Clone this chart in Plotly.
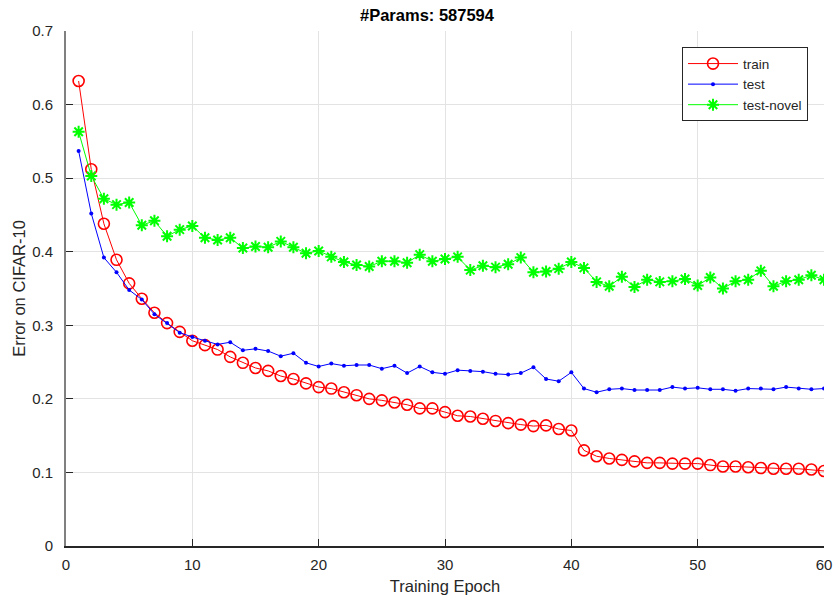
import plotly.graph_objects as go

epochs = list(range(1, 61))

train_err = [0.632, 0.512, 0.438, 0.389, 0.357, 0.336, 0.317, 0.303, 0.291, 0.279,
             0.273, 0.267, 0.257, 0.249, 0.242, 0.238, 0.231, 0.227, 0.221, 0.216,
             0.214, 0.209, 0.205, 0.200, 0.198, 0.195, 0.192, 0.187, 0.187, 0.182,
             0.177, 0.176, 0.173, 0.170, 0.167, 0.165, 0.163, 0.164, 0.159, 0.157,
             0.130, 0.122, 0.119, 0.117, 0.115, 0.113, 0.113, 0.112, 0.112, 0.112,
             0.110, 0.108, 0.108, 0.107, 0.106, 0.105, 0.105, 0.105, 0.104, 0.102]

test_err = [0.537, 0.452, 0.392, 0.372, 0.348, 0.335, 0.315, 0.303, 0.290, 0.284,
            0.279, 0.274, 0.277, 0.266, 0.268, 0.265, 0.258, 0.262, 0.249, 0.244,
            0.248, 0.245, 0.246, 0.246, 0.241, 0.245, 0.235, 0.244, 0.236, 0.234,
            0.239, 0.238, 0.237, 0.234, 0.233, 0.235, 0.243, 0.227, 0.224, 0.236,
            0.214, 0.209, 0.213, 0.214, 0.212, 0.212, 0.212, 0.216, 0.214, 0.215,
            0.213, 0.213, 0.211, 0.214, 0.214, 0.213, 0.216, 0.214, 0.213, 0.214]

test_novel_err = [0.563, 0.503, 0.472, 0.464, 0.467, 0.436, 0.442, 0.421, 0.430, 0.435,
                  0.419, 0.416, 0.419, 0.405, 0.407, 0.406, 0.414, 0.406, 0.398, 0.401,
                  0.393, 0.386, 0.382, 0.380, 0.387, 0.387, 0.385, 0.396, 0.387, 0.390,
                  0.393, 0.375, 0.381, 0.379, 0.383, 0.392, 0.372, 0.373, 0.377, 0.386,
                  0.378, 0.359, 0.353, 0.366, 0.352, 0.362, 0.359, 0.360, 0.363, 0.354,
                  0.365, 0.350, 0.360, 0.362, 0.374, 0.353, 0.360, 0.362, 0.368, 0.362]

title_text = "#Params: 587594"
x_title = "Training Epoch"
y_title = "Error on CIFAR-10"
x_ticks = [0, 10, 20, 30, 40, 50, 60]
y_ticks = [0, 0.1, 0.2, 0.3, 0.4, 0.5, 0.6, 0.7]
y_tick_labels = ["0", "0.1", "0.2", "0.3", "0.4", "0.5", "0.6", "0.7"]

FONT = "Liberation Sans, Arial, Helvetica, sans-serif"
TXT = "#262626"

fig = go.Figure()
fig.add_trace(go.Scatter(
    x=epochs, y=train_err, name="train", mode="lines+markers",
    line=dict(color="#ff0000", width=1),
    marker=dict(symbol="circle-open", size=11, color="#ff0000",
                line=dict(color="#ff0000", width=1.6)),
))
fig.add_trace(go.Scatter(
    x=epochs, y=test_err, name="test", mode="lines+markers",
    line=dict(color="#0000ff", width=1),
    marker=dict(symbol="circle", size=4, color="#0000ff"),
))
fig.add_trace(go.Scatter(
    x=epochs, y=test_novel_err, name="test-novel", mode="lines+markers",
    line=dict(color="#00ff00", width=1),
    marker=dict(symbol="asterisk-open", size=10, color="#00ff00",
                line=dict(color="#00ff00", width=2)),
))

fig.update_layout(
    width=834, height=595,
    margin=dict(l=66, r=10, t=31, b=49, autoexpand=False),
    paper_bgcolor="white", plot_bgcolor="white",
    font=dict(family=FONT, color=TXT, size=15),
    title=dict(text="<b>" + title_text + "</b>", x=427 / 834, xref="container",
               xanchor="center", y=1 - 15 / 595, yref="container", yanchor="middle",
               font=dict(family=FONT, size=16.5, color="#000000")),
    showlegend=True,
    legend=dict(x=(808 - 66) / 758, xanchor="right", y=(545.7 - 47) / 515, yanchor="top",
                bgcolor="white", bordercolor="#262626", borderwidth=1,
                font=dict(family=FONT, size=13.5, color=TXT),
                itemwidth=50, tracegroupgap=0),
)

fig.update_xaxes(
    range=[0, 60], tickvals=x_ticks, ticktext=[str(t) for t in x_ticks],
    automargin=False,
    showgrid=True, gridcolor="#e3e3e3", gridwidth=1,
    zeroline=False, showline=True, linecolor="#262626", linewidth=1.5,
    ticks="inside", ticklen=7, tickcolor="#262626", tickwidth=1,
    ticklabelstandoff=4,
    title=dict(text=x_title, font=dict(family=FONT, size=16.5, color=TXT), standoff=9),
)
fig.update_yaxes(
    range=[0, 0.7], tickvals=y_ticks, ticktext=y_tick_labels,
    automargin=False,
    showgrid=True, gridcolor="#e3e3e3", gridwidth=1,
    zeroline=False, showline=True, linecolor="#808080", linewidth=2,
    ticks="inside", ticklen=7, tickcolor="#262626", tickwidth=1,
    ticklabelstandoff=8,
    title=dict(text=y_title, font=dict(family=FONT, size=16.5, color=TXT), standoff=2),
)

fig.write_html("out.html",
               config={"displayModeBar": False},
               post_script="document.body.style.margin='0';document.body.style.padding='0';")
